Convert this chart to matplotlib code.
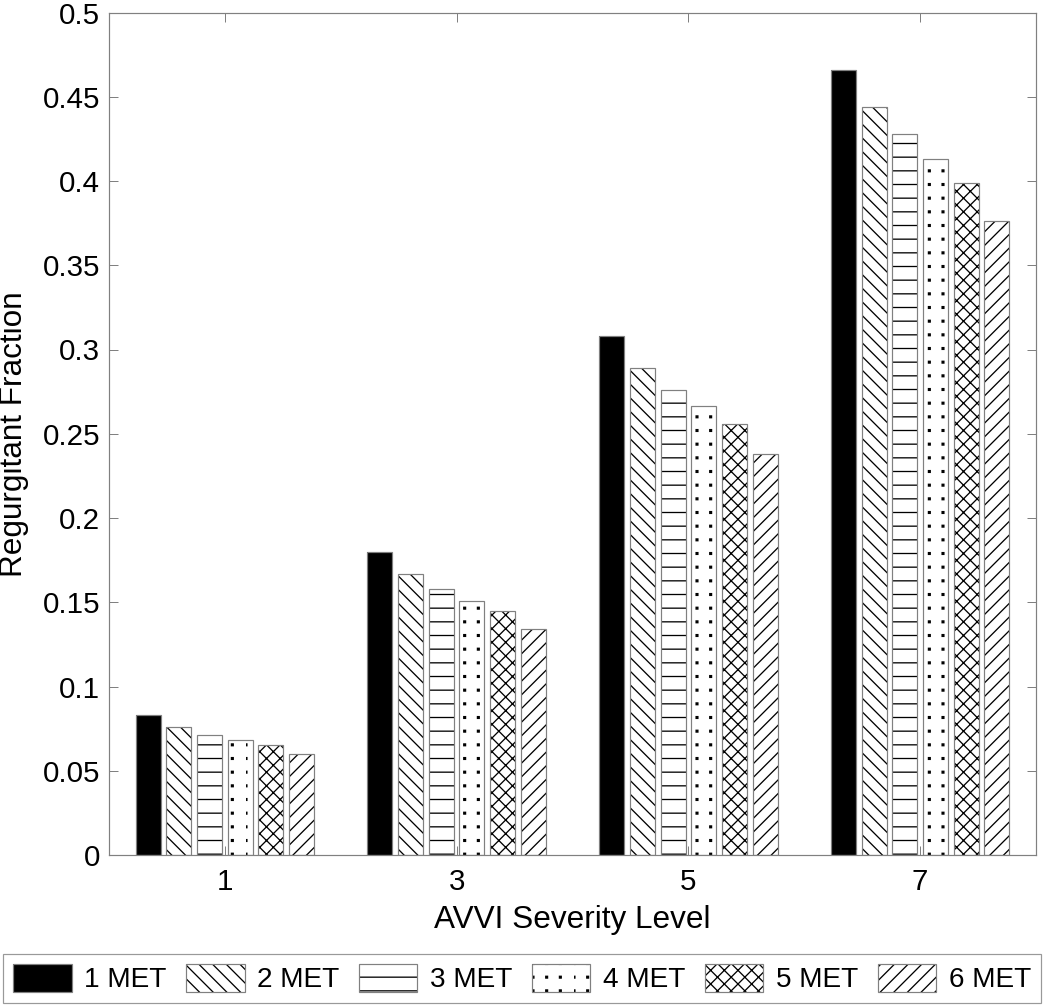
import matplotlib
matplotlib.use('Agg')
import matplotlib.pyplot as plt
import matplotlib.hatch as mhatch
from matplotlib.path import Path
import numpy as np
from matplotlib.patches import Patch
from matplotlib.legend_handler import HandlerTuple

# ---- data ----
levels = [1, 3, 5, 7]
series_names = ['1 MET', '2 MET', '3 MET', '4 MET', '5 MET', '6 MET']
met1 = [0.083, 0.180, 0.308, 0.466]
met2 = [0.076, 0.167, 0.289, 0.444]
met3 = [0.071, 0.158, 0.276, 0.428]
met4 = [0.068, 0.151, 0.2665, 0.413]
met5 = [0.065, 0.145, 0.256, 0.399]
met6 = [0.060, 0.134, 0.238, 0.376]
yticks = [0, 0.05, 0.1, 0.15, 0.2, 0.25, 0.3, 0.35, 0.4, 0.45, 0.5]
ytick_labels = ['0', '0.05', '0.1', '0.15', '0.2', '0.25', '0.3', '0.35', '0.4', '0.45', '0.5']
xtick_labels = ['1', '3', '5', '7']

series = [met1, met2, met3, met4, met5, met6]
faces = ['black', 'white', 'white', 'white', 'white', 'white']
hatches = ['', '\\\\', '-', '.', 'xx', '//']


# grid-aligned small square dots for the '.' hatch (MATLAB-like dotted fill)
class GridDots(mhatch.HatchPatternBase):
    def __init__(self, hatch, density):
        self.n = int(hatch.count('.') * density)
        self.num_vertices = self.n * self.n * 5

    def set_vertices_and_codes(self, vertices, codes):
        n = self.n
        s = 0.011
        c = np.arange(n) / n
        X, Y = np.meshgrid(c, c + 0.5 / n)
        centers = np.stack([X.ravel(), Y.ravel()], 1)
        sq = np.array([[-s, -s], [s, -s], [s, s], [-s, s], [-s, -s]])
        vertices[:] = (centers[:, None, :] + sq[None]).reshape(-1, 2)
        cd = np.array([Path.MOVETO, Path.LINETO, Path.LINETO, Path.LINETO, Path.CLOSEPOLY])
        codes[:] = np.tile(cd, n * n)


try:
    mhatch._hatch_types = [GridDots if t is mhatch.SmallFilledCircles else t
                           for t in mhatch._hatch_types]
except Exception:
    pass

DPI = 82
PX = 72.0 / DPI  # points per pixel
plt.rcParams['font.family'] = ['Liberation Sans', 'DejaVu Sans']
plt.rcParams['hatch.linewidth'] = 1.3 * PX
FS_TICK = 29.5 * PX
FS_LAB = 31.5 * PX
FS_LEG = 28 * PX
EDGE = '#808080'

fig = plt.figure(figsize=(1050 / DPI, 1005 / DPI), dpi=DPI)
ax = fig.add_axes([109 / 1050, 1 - 855 / 1005, (1036 - 109) / 1050, (855 - 12.5) / 1005])

pitch = 0.265
width = 0.216
x = np.array(levels, dtype=float)
for i, vals in enumerate(series):
    xi = x + (i - 2.5) * pitch
    ax.bar(xi, vals, width=width, color=faces[i], hatch=hatches[i],
           edgecolor='black', linewidth=0, zorder=2)
    ax.bar(xi, vals, width=width, fill=False, edgecolor=EDGE,
           linewidth=1.2 * PX, zorder=3)

ax.set_xlim(0, 8)
ax.set_ylim(0, 0.5)
ax.set_xticks(levels)
ax.set_xticklabels(xtick_labels)
ax.set_yticks(yticks)
ax.set_yticklabels(ytick_labels)
ax.tick_params(direction='in', length=9 * PX, width=1 * PX, color=EDGE,
               top=True, right=True, labelsize=FS_TICK, pad=9 * PX)
ax.tick_params(axis='x', pad=13 * PX)
for s in ax.spines.values():
    s.set_color(EDGE)
    s.set_linewidth(1.2 * PX)

ax.set_xlabel('AVVI Severity Level', fontsize=FS_LAB)
ax.set_ylabel('Regurgitant Fraction', fontsize=FS_LAB)
ax.xaxis.set_label_coords(0.5, (855 - 905) / 843)
ax.yaxis.set_label_coords((29 - 109) / 927, 0.5)

handles = []
for i in range(6):
    handles.append((Patch(facecolor=faces[i], hatch=hatches[i], edgecolor='black', linewidth=0),
                    Patch(fill=False, edgecolor=EDGE, linewidth=1.2 * PX)))
leg = fig.legend(handles, series_names,
                 handler_map={tuple: HandlerTuple(ndivide=1, pad=0)},
                 loc='lower left',
                 bbox_to_anchor=(3 / 1050, 2 / 1005, (1041 - 3) / 1050, 51 / 1005),
                 mode='expand', ncol=6, fontsize=FS_LEG, frameon=True, fancybox=False,
                 edgecolor=EDGE, borderaxespad=0, handlelength=2.1, handleheight=1.15,
                 handletextpad=0.45, borderpad=0.35, columnspacing=0.5)
leg.get_frame().set_linewidth(1.2 * PX)

fig.savefig('out.png', dpi=DPI)
